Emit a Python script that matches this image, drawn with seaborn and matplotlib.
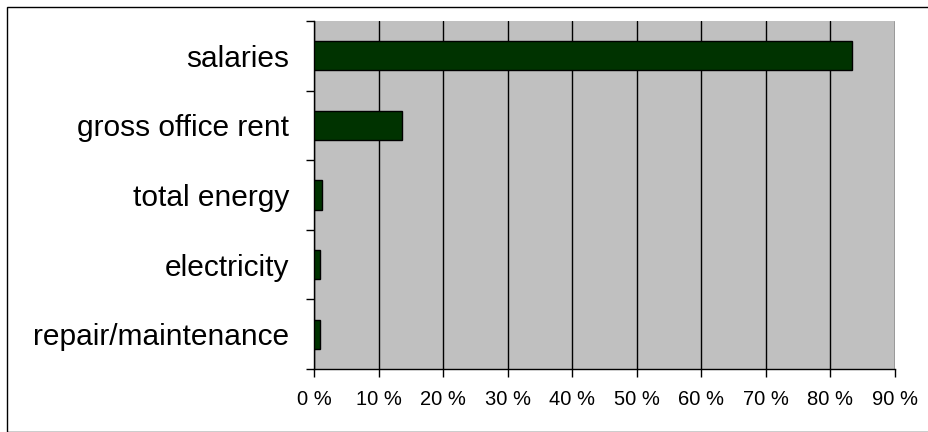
import matplotlib
matplotlib.use("Agg")
import matplotlib.pyplot as plt
import seaborn as sns
import pandas as pd
import numpy as np
from matplotlib.ticker import FixedLocator, PercentFormatter

# data (share of costs, %)
categories = ["salaries", "gross office rent", "total energy", "electricity", "repair/maintenance"]
values = [83.3, 13.7, 1.2, 1.0, 1.0]

df = pd.DataFrame({"category": categories, "value": values})

sns.set_style("white")
plt.rcParams['font.family'] = ['Liberation Sans', 'DejaVu Sans']
plt.rcParams['text.color'] = 'black'
plt.rcParams['xtick.color'] = 'black'
plt.rcParams['ytick.color'] = 'black'

fig = plt.figure(figsize=(9.29, 4.32), dpi=100)
ax = fig.add_axes([314/929, 1 - 369/432, 581/929, 348/432])

sns.barplot(data=df, x="value", y="category", orient="h", color="#003300",
            saturation=1, width=0.42, edgecolor="black", linewidth=1, ax=ax, zorder=3)

ax.set_facecolor("#c0c0c0")
ax.set_xlim(0, 90)
ax.set_ylim(4.5, -0.5)
ax.set_xticks(np.arange(0, 91, 10))
ax.xaxis.set_major_formatter(PercentFormatter(decimals=0, symbol=" %"))
ax.grid(axis="x", color="black", linewidth=1, zorder=0)
ax.set_axisbelow(True)

# y tick marks at category boundaries, labels at centers
ax.yaxis.set_minor_locator(FixedLocator(np.arange(-0.5, 5, 1)))
ax.tick_params(axis="y", which="major", length=0, pad=18, labelsize=21.5, labelcolor="black")
ax.tick_params(axis="y", which="minor", length=6, width=1, color="black", left=True)
ax.tick_params(axis="x", which="major", length=6, width=1, color="black", bottom=True,
               labelsize=14.5, pad=9, labelcolor="black")
ax.set_xlabel("")
ax.set_ylabel("")

for s in ["top", "right"]:
    ax.spines[s].set_visible(False)
for s in ["left", "bottom"]:
    ax.spines[s].set_color("black")
    ax.spines[s].set_linewidth(1)

# outer frame of the chart
fig.patches.append(plt.Rectangle((7/929, 0), 1, 1 - 7/432, transform=fig.transFigure,
                                 fill=False, edgecolor="black", linewidth=1))

fig.savefig("out.png", dpi=100)
